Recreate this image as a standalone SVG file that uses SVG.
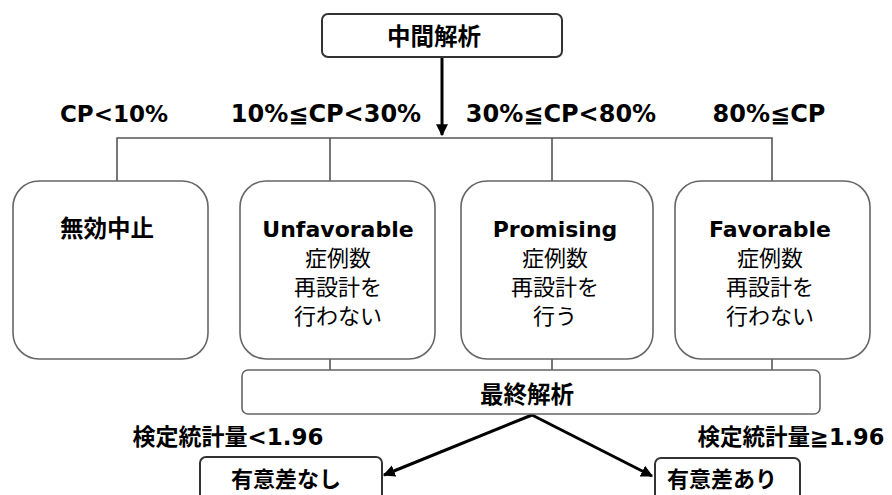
<svg xmlns="http://www.w3.org/2000/svg" width="892" height="495" viewBox="0 0 892 495">
<defs>
<style>
.t{font-family:'DejaVu Sans','Noto Sans CJK JP',sans-serif;fill:#000;}
.b{font-weight:bold;}
.box{fill:#fff;stroke:#666;stroke-width:1.6;}
.dbox{fill:#fff;stroke:#333;stroke-width:2;}
.ln{fill:none;stroke:#555;stroke-width:1.6;}
.ar{fill:none;stroke:#000;stroke-width:3;}
</style>
<marker id="ah" viewBox="0 0 10 10" refX="9" refY="5" markerWidth="4" markerHeight="4" orient="auto" markerUnits="strokeWidth">
<path d="M0,0 L10,5 L0,10 z" fill="#000"/>
</marker>
</defs>
<rect width="892" height="495" fill="#fff"/>
<g id="connectors">
<line class="ar" x1="442" y1="57" x2="442" y2="135" marker-end="url(#ah)"/>
<polyline class="ln" points="117,181 117,138 772,138 772,181"/>
<line class="ln" x1="330" y1="138" x2="330" y2="181"/>
<line class="ln" x1="552" y1="138" x2="552" y2="181"/>
<line class="ln" x1="330" y1="359" x2="330" y2="370"/>
<line class="ln" x1="552" y1="359" x2="552" y2="370"/>
<line class="ln" x1="772" y1="359" x2="772" y2="370"/>
<line class="ar" x1="532" y1="415" x2="384" y2="475" marker-end="url(#ah)"/>
<line class="ar" x1="532" y1="415" x2="652" y2="476" marker-end="url(#ah)"/>
</g>
<g id="labels">
<text class="t b" x="114" y="122" font-size="23" text-anchor="middle">CP&lt;10%</text>
<text class="t b" x="326" y="122" font-size="24" text-anchor="middle">10%≦CP&lt;30%</text>
<text class="t b" x="561" y="122" font-size="24" text-anchor="middle">30%≦CP&lt;80%</text>
<text class="t b" x="769" y="122" font-size="24" text-anchor="middle">80%≦CP</text>
<text class="t b" x="228" y="445" font-size="23" text-anchor="middle">検定統計量&lt;1.96</text>
<text class="t b" x="791" y="445" font-size="22.5" text-anchor="middle">検定統計量≧1.96</text>
</g>
<g id="n-interim">
<rect class="dbox" x="322" y="14" width="240" height="43" rx="6"/>
<text class="t b" x="434" y="45" font-size="23.5" text-anchor="middle">中間解析</text>
</g>
<g id="n-futility">
<rect class="box" x="13" y="181" width="195" height="178" rx="26"/>
<text class="t b" x="107" y="237" font-size="23.5" text-anchor="middle">無効中止</text>
</g>
<g id="n-unfavorable">
<rect class="box" x="240" y="181" width="195" height="178" rx="26"/>
<text class="t b" x="338" y="237" font-size="22" text-anchor="middle">Unfavorable</text>
<text class="t" x="338" y="266" font-size="22" text-anchor="middle">症例数</text>
<text class="t" x="338" y="295" font-size="22" text-anchor="middle">再設計を</text>
<text class="t" x="338" y="324" font-size="22" text-anchor="middle">行わない</text>
</g>
<g id="n-promising">
<rect class="box" x="461" y="181" width="192" height="178" rx="26"/>
<text class="t b" x="555" y="237" font-size="22" text-anchor="middle">Promising</text>
<text class="t" x="555" y="266" font-size="22" text-anchor="middle">症例数</text>
<text class="t" x="555" y="295" font-size="22" text-anchor="middle">再設計を</text>
<text class="t" x="555" y="324" font-size="22" text-anchor="middle">行う</text>
</g>
<g id="n-favorable">
<rect class="box" x="675" y="181" width="195" height="178" rx="26"/>
<text class="t b" x="770" y="237" font-size="22" text-anchor="middle">Favorable</text>
<text class="t" x="770" y="266" font-size="22" text-anchor="middle">症例数</text>
<text class="t" x="770" y="295" font-size="22" text-anchor="middle">再設計を</text>
<text class="t" x="770" y="324" font-size="22" text-anchor="middle">行わない</text>
</g>
<g id="n-final">
<rect class="box" x="242" y="370" width="578" height="44" rx="6"/>
<text class="t b" x="527" y="403" font-size="23.5" text-anchor="middle">最終解析</text>
</g>
<g id="n-nosig">
<rect class="dbox" x="200" y="457" width="182" height="46" rx="6"/>
<text class="t b" x="286" y="487" font-size="22" text-anchor="middle">有意差なし</text>
</g>
<g id="n-sig">
<rect class="dbox" x="655" y="458" width="145" height="46" rx="6"/>
<text class="t b" x="722" y="487" font-size="22" text-anchor="middle">有意差あり</text>
</g>
</svg>
